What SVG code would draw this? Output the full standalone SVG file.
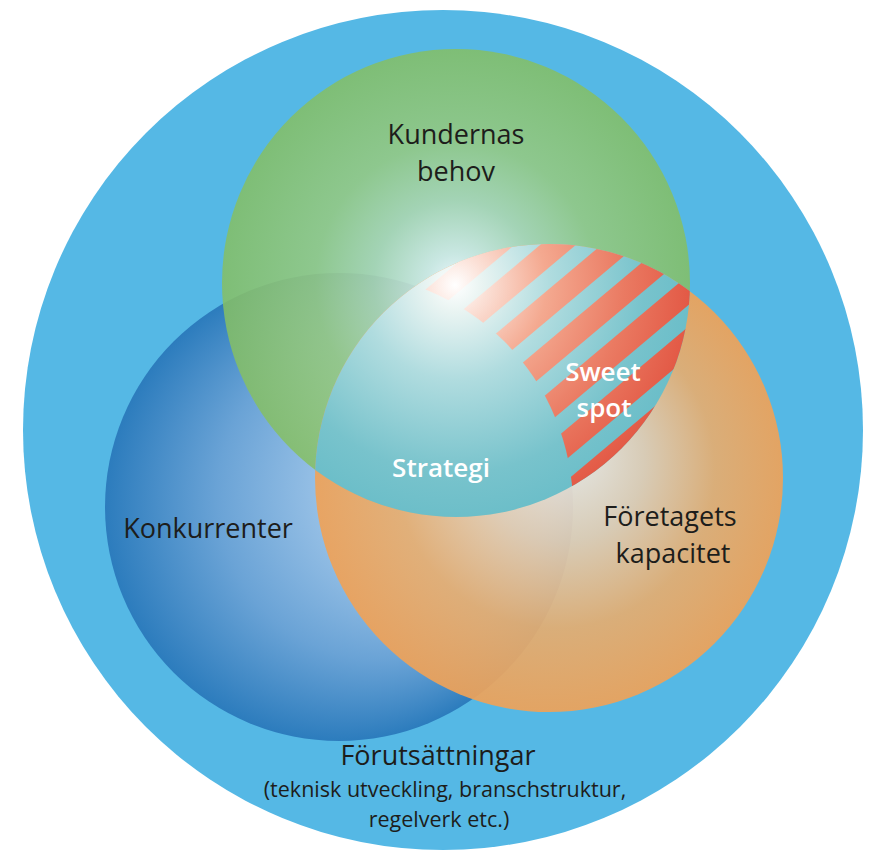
<svg xmlns="http://www.w3.org/2000/svg" width="873" height="854" viewBox="0 0 873 854">
<style>
  text { font-family: "Open Sans", "Noto Sans", "Liberation Sans", sans-serif; text-anchor: middle; }
  .dark { fill: #1d1d1b; font-size: 27px; }
  .white { fill: #ffffff; font-size: 26px; font-weight: 600; }
  .small { fill: #1d1d1b; font-size: 21.5px; }
</style>
<defs>
  <radialGradient id="gBlue" gradientUnits="userSpaceOnUse" cx="339" cy="507" r="234" fx="480" fy="470">
    <stop offset="0" stop-color="#d6e8f7"/>
    <stop offset="0.35" stop-color="#a3c8ea"/>
    <stop offset="0.7" stop-color="#6aa3d6"/>
    <stop offset="1" stop-color="#2c7cbd"/>
  </radialGradient>
  <radialGradient id="gGreen" gradientUnits="userSpaceOnUse" cx="456" cy="283" r="234" fx="455" fy="282">
    <stop offset="0" stop-color="#ffffff"/>
    <stop offset="0.12" stop-color="#dcefe2"/>
    <stop offset="0.35" stop-color="#b0d8ae"/>
    <stop offset="0.6" stop-color="#97ca80"/>
    <stop offset="1" stop-color="#85bf64"/>
  </radialGradient>
  <radialGradient id="gOrange" gradientUnits="userSpaceOnUse" cx="549" cy="478" r="234" fx="570" fy="450">
    <stop offset="0" stop-color="#f1ece6"/>
    <stop offset="0.35" stop-color="#e3cdb2"/>
    <stop offset="0.68" stop-color="#e5ad70"/>
    <stop offset="1" stop-color="#efa258"/>
  </radialGradient>
  <radialGradient id="gTeal" gradientUnits="userSpaceOnUse" cx="455" cy="285" r="270">
    <stop offset="0" stop-color="#ffffff"/>
    <stop offset="0.1" stop-color="#e9f4f2"/>
    <stop offset="0.35" stop-color="#b0dcdf"/>
    <stop offset="0.7" stop-color="#78c3cc"/>
    <stop offset="1" stop-color="#62bac6"/>
  </radialGradient>
  <radialGradient id="gRed" gradientUnits="userSpaceOnUse" cx="455" cy="285" r="260">
    <stop offset="0" stop-color="#ffffff"/>
    <stop offset="0.12" stop-color="#fbe0d6"/>
    <stop offset="0.35" stop-color="#f4a990"/>
    <stop offset="0.65" stop-color="#ea7a62"/>
    <stop offset="1" stop-color="#e04d3b"/>
  </radialGradient>
  <clipPath id="clipGreen"><circle cx="456" cy="283" r="234"/></clipPath>
  <clipPath id="clipOrange"><circle cx="549" cy="478" r="234"/></clipPath>
  <mask id="noBlue" maskUnits="userSpaceOnUse" x="0" y="0" width="873" height="854">
    <rect x="0" y="0" width="873" height="854" fill="#ffffff"/>
    <circle cx="339" cy="507" r="234" fill="#000000"/>
  </mask>
</defs>

<g id="forutsattningar">
  <circle cx="443" cy="430" r="420" fill="#55b8e5"/>
  <text class="dark" x="438" y="765">Förutsättningar</text>
  <text class="small"><tspan x="445" y="797">(teknisk utveckling, branschstruktur,</tspan><tspan x="439" y="827">regelverk etc.)</tspan></text>
</g>

<g id="konkurrenter">
  <circle cx="339" cy="507" r="234" fill="url(#gBlue)"/>
  <text class="dark" x="208" y="538">Konkurrenter</text>
</g>

<g id="kundernas-behov">
  <circle cx="456" cy="283" r="234" fill="url(#gGreen)" opacity="0.86"/>
  <text class="dark"><tspan x="456" y="144">Kundernas</tspan><tspan x="456" y="181">behov</tspan></text>
</g>

<g id="foretagets-kapacitet">
  <circle cx="549" cy="478" r="234" fill="url(#gOrange)" opacity="0.92"/>
  <text class="dark"><tspan x="670" y="526">Företagets</tspan><tspan x="673" y="563">kapacitet</tspan></text>
</g>

<g id="strategi">
  <g clip-path="url(#clipGreen)">
    <circle cx="549" cy="478" r="234" fill="url(#gTeal)"/>
  </g>
</g>

<g id="sweet-spot">
  <g clip-path="url(#clipGreen)">
    <g clip-path="url(#clipOrange)">
      <g mask="url(#noBlue)" stroke="url(#gRed)" stroke-width="23" fill="none">
        <line x1="400" y1="326" x2="720" y2="57.3"/>
        <line x1="400" y1="377.6" x2="720" y2="108.9"/>
        <line x1="400" y1="429.1" x2="720" y2="160.4"/>
        <line x1="400" y1="480.7" x2="720" y2="212"/>
        <line x1="400" y1="532.3" x2="720" y2="263.6"/>
        <line x1="400" y1="583.8" x2="720" y2="315.2"/>
        <line x1="400" y1="635.4" x2="720" y2="366.7"/>
      </g>
    </g>
  </g>
</g>

<g id="labels">
  <text class="white" x="441" y="477">Strategi</text>
  <text class="white"><tspan x="603" y="381">Sweet</tspan><tspan x="604" y="417">spot</tspan></text>
</g>
</svg>
